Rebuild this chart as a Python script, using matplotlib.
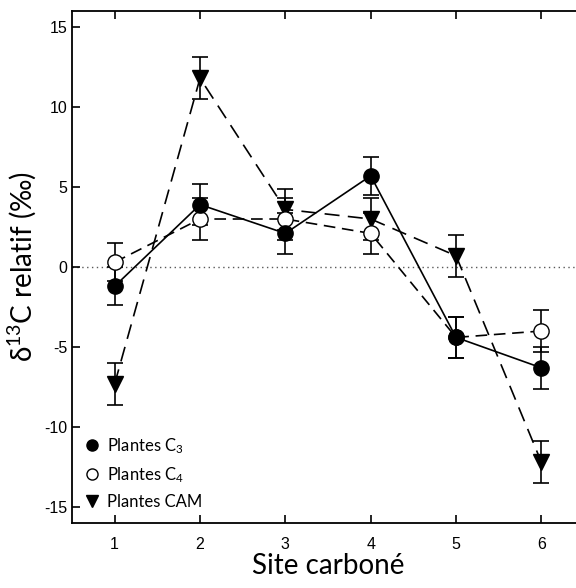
import matplotlib
matplotlib.use("Agg")
import matplotlib.pyplot as plt
from matplotlib.lines import Line2D

sites = [1, 2, 3, 4, 5, 6]

c3 = [-1.2, 3.9, 2.1, 5.7, -4.4, -6.3]
c3_err = [1.2, 1.3, 1.3, 1.2, 1.3, 1.3]

c4 = [0.3, 3.0, 3.0, 2.1, -4.4, -4.0]
c4_err = [1.2, 1.3, 1.3, 1.3, 1.3, 1.3]

cam = [-7.3, 11.8, 3.6, 3.0, 0.7, -12.2]
cam_err = [1.3, 1.3, 1.3, 1.3, 1.3, 1.3]

plt.rcParams['font.family'] = ['Liberation Sans', 'DejaVu Sans']
plt.rcParams['axes.unicode_minus'] = False
plt.rcParams['mathtext.fontset'] = 'custom'
plt.rcParams['mathtext.rm'] = 'Lato'
plt.rcParams['mathtext.it'] = 'Lato'
label_font = ['Lato', 'DejaVu Sans']

fig = plt.figure(figsize=(5.76, 5.88), dpi=100)
ax = fig.add_axes([0.125, 0.1105, 0.889, 0.8708])

ax.axhline(0, color='0.35', lw=1, ls=(0, (1, 2.5)), zorder=0)

kw = dict(color='black', ecolor='black', elinewidth=1.2, capsize=6,
          capthick=1.2, lw=1.2, markersize=11)

ax.errorbar(sites, cam, yerr=cam_err, fmt='v', ls=(0, (9, 5)),
            markerfacecolor='black', **kw)
ax.errorbar(sites, c4, yerr=c4_err, fmt='o', ls=(0, (7, 4)),
            markerfacecolor='white', **kw)
ax.errorbar(sites, c3, yerr=c3_err, fmt='o', ls='-',
            markerfacecolor='black', **kw)

ax.set_xlim(0.5, 6.5)
ax.set_ylim(-16, 16)
ax.set_xticks(sites)
ax.set_yticks([-15, -10, -5, 0, 5, 10, 15])
ax.tick_params(direction='in', top=True, right=True, length=6, width=1.2,
               labelsize=11.5)
ax.tick_params(axis='x', pad=10)
for s in ax.spines.values():
    s.set_linewidth(1.3)

ax.set_xlabel('Site carboné', family=label_font, fontsize=20, labelpad=1)
ax.set_ylabel('δ$^{13}$C relatif (‰)', family=label_font, fontsize=20,
              labelpad=4)

# legend: markers only
handles = [
    Line2D([], [], marker='o', ls='', color='black', markerfacecolor='black', markersize=8),
    Line2D([], [], marker='o', ls='', color='black', markerfacecolor='white', markersize=8),
    Line2D([], [], marker='v', ls='', color='black', markerfacecolor='black', markersize=8),
]
ax.legend(handles, ['Plantes C$_3$', 'Plantes C$_4$', 'Plantes CAM'],
          loc='lower left', frameon=False, handlelength=0.8,
          handletextpad=0.5, labelspacing=0.55, borderaxespad=0.4,
          prop={'family': label_font, 'size': 12})

fig.savefig('out.png', dpi=100)
